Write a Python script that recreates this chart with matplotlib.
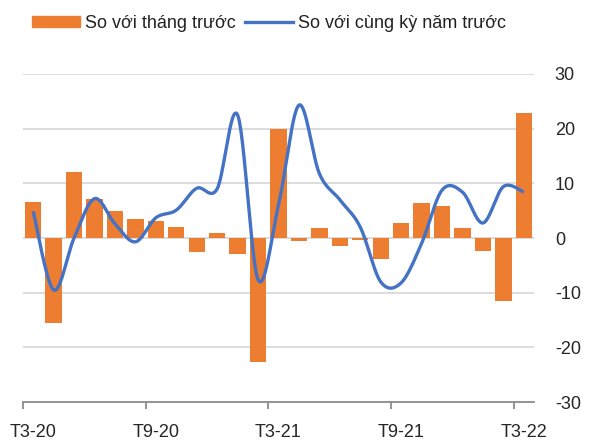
import numpy as np
import matplotlib.pyplot as plt
from matplotlib.lines import Line2D
from matplotlib.patches import Patch

plt.rcParams['font.family'] = ['Liberation Sans', 'DejaVu Sans']
plt.rcParams['axes.unicode_minus'] = False

months = ['T3-20', 'T4-20', 'T5-20', 'T6-20', 'T7-20', 'T8-20', 'T9-20',
          'T10-20', 'T11-20', 'T12-20', 'T1-21', 'T2-21', 'T3-21', 'T4-21',
          'T5-21', 'T6-21', 'T7-21', 'T8-21', 'T9-21', 'T10-21', 'T11-21',
          'T12-21', 'T1-22', 'T2-22', 'T3-22']

# so voi thang truoc (%)
mom = [6.6, -15.6, 12.1, 7.1, 4.9, 3.4, 3.2, 2.1, -2.6, 1.0, -3.0, -22.6,
       19.9, -0.6, 1.9, -1.5, -0.4, -3.9, 2.7, 6.4, 5.8, 1.9, -2.4, -11.5, 22.9]

# so voi cung ky nam truoc (%)
yoy = [4.9, -9.5, 0.0, 7.2, 2.6, -0.7, 3.7, 5.1, 9.1, 9.0, 22.5, -7.6,
       6.0, 24.3, 11.8, 7.0, 2.0, -8.0, -8.2, -1.0, 8.75, 8.4, 2.75, 9.4, 8.4]

orange = '#ED7D31'
blue = '#4472C4'


def smooth(x, y, n=30):
    # catmull-rom style bezier, like a spreadsheet "smoothed line"
    x = np.asarray(x, float)
    y = np.asarray(y, float)
    px = np.concatenate([[x[0]], x, [x[-1]]])
    py = np.concatenate([[y[0]], y, [y[-1]]])
    t = np.linspace(0, 1, n)
    xs, ys = [], []
    for i in range(1, len(px) - 2):
        p0, p1, p2, p3 = (np.array([px[j], py[j]]) for j in (i - 1, i, i + 1, i + 2))
        b1 = p1 + (p2 - p0) / 6
        b2 = p2 - (p3 - p1) / 6
        pts = (np.outer((1 - t) ** 3, p1) + np.outer(3 * (1 - t) ** 2 * t, b1)
               + np.outer(3 * (1 - t) * t ** 2, b2) + np.outer(t ** 3, p2))
        xs.extend(pts[:, 0])
        ys.extend(pts[:, 1])
    return np.array(xs), np.array(ys)


fig = plt.figure(figsize=(5.89, 4.41), dpi=100)
ax = fig.add_axes([0.039, 0.0884, 0.8676, 0.7438])

idx = np.arange(len(months))
ax.bar(idx, mom, width=0.8, color=orange, zorder=2)
sx, sy = smooth(idx, yoy)
ax.plot(sx, sy, color=blue, lw=2.4, zorder=3, solid_capstyle='butt')

ax.set_xlim(-0.5, len(months) - 0.5)
ax.set_ylim(-30, 30)
ax.set_yticks(range(-30, 31, 10))
ax.yaxis.tick_right()
ax.tick_params(axis='y', length=0, pad=15, labelsize=13, colors='#262626')
ax.grid(axis='y', color='#d9d9d9', lw=1.3, zorder=0)

ax.set_xticks(idx[::6])
ax.set_xticklabels(months[::6])
ax.set_xticks(idx[::6] - 0.5, minor=True)
ax.tick_params(axis='x', which='major', length=0, pad=16, labelsize=13,
               colors='#262626')
ax.tick_params(axis='x', which='minor', length=5, width=1.3, color='#8c8c8c')

for s in ['left', 'right', 'top']:
    ax.spines[s].set_visible(False)
ax.spines['bottom'].set_color('#8c8c8c')
ax.spines['bottom'].set_linewidth(1.3)

handles = [Patch(color=orange, label='So với tháng trước'),
           Line2D([], [], color=blue, lw=2.4, label='So với cùng kỳ năm trước')]
fig.legend(handles=handles, loc='center', bbox_to_anchor=(0.457, 0.946),
           ncol=2, frameon=False, fontsize=13, handlelength=2.65,
           handleheight=0.55, handletextpad=0.3, columnspacing=0.5,
           labelcolor='#222222')

fig.savefig('out.png', dpi=100)
